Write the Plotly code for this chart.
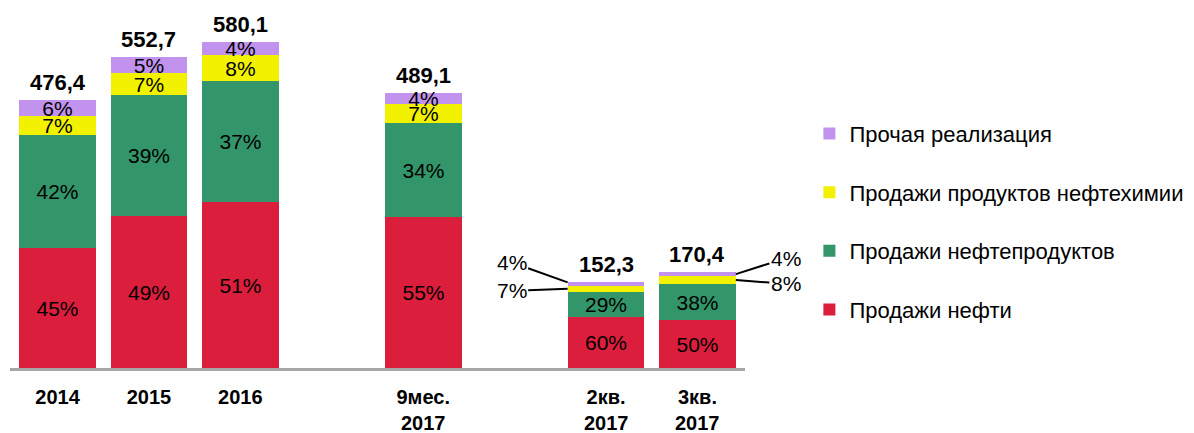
import plotly.graph_objects as go

# ---- data ----
categories = ["2014", "2015", "2016", "9мес.", "2кв.", "3кв."]
categories_line2 = ["", "", "", "2017", "2017", "2017"]
cat_pos = [0, 1, 2, 4, 6, 7]
totals = [476.4, 552.7, 580.1, 489.1, 152.3, 170.4]

series_names = ["Продажи нефти", "Продажи нефтепродуктов",
                "Продажи продуктов нефтехимии", "Прочая реализация"]
pct_oil = [45, 49, 51, 55, 60, 50]
pct_products = [42, 39, 37, 34, 29, 38]
pct_petchem = [7, 7, 8, 7, 7, 8]
pct_other = [6, 5, 4, 4, 4, 4]
series_pct = [pct_oil, pct_products, pct_petchem, pct_other]
colors = ["#DA1E3C", "#33956A", "#F2F200", "#C293EE"]

# bars whose small shares are labelled outside with leader lines
outside_label_cats = [4, 5]

FONT = "Liberation Sans, Arial, sans-serif"
BAR_W = 0.84

fig = go.Figure()
for k, (name, pct, col) in enumerate(zip(series_names, series_pct, colors)):
    vals = [t * p / 100 for t, p in zip(totals, pct)]
    texts = []
    for i, p in enumerate(pct):
        if i in outside_label_cats and name in series_names[2:]:
            texts.append("")
        else:
            texts.append(f"{p}%")
    fig.add_trace(go.Bar(
        x=cat_pos, y=vals, name=name, width=BAR_W,
        marker=dict(color=col, line=dict(width=0)),
        text=texts, textposition="inside", insidetextanchor="middle",
        constraintext="none",
        textfont=dict(family=FONT, size=21, color="black"),
        legendgroup=name, legendrank=len(series_names) - k,
        hoverinfo="skip",
    ))

annotations = []
# totals on top
for xp, t in zip(cat_pos, totals):
    annotations.append(dict(
        x=xp, y=t, xref="x", yref="y", text=f"<b>{str(t).replace('.', ',')}</b>",
        showarrow=False, yanchor="bottom", yshift=3,
        font=dict(family=FONT, size=22, color="black")))

# second line of category labels
for xp, l2 in zip(cat_pos, categories_line2):
    if l2:
        annotations.append(dict(
            x=xp, y=0, xref="x", yref="paper", text=f"<b>{l2}</b>",
            showarrow=False, yanchor="middle", yshift=-55,
            font=dict(family=FONT, size=20, color="black")))

# leader-line labels for the quarter bars
def cum(i, upto):
    return sum(series_pct[k][i] for k in range(upto)) * totals[i] / 100

# 2кв. (left side)
i = 4
annotations.append(dict(x=cat_pos[i] - BAR_W / 2, y=totals[i], xref="x", yref="y",
                        text=f"{pct_other[i]}%", showarrow=True, arrowhead=0,
                        arrowwidth=2, arrowcolor="black", ax=-56, ay=-20,
                        font=dict(family=FONT, size=21, color="black")))
annotations.append(dict(x=cat_pos[i] - BAR_W / 2,
                        y=cum(i, 2) + pct_petchem[i] * totals[i] / 200,
                        xref="x", yref="y",
                        text=f"{pct_petchem[i]}%", showarrow=True, arrowhead=0,
                        arrowwidth=2, arrowcolor="black", ax=-56, ay=2,
                        font=dict(family=FONT, size=21, color="black")))
# 3кв. (right side)
i = 5
annotations.append(dict(x=cat_pos[i] + BAR_W / 2,
                        y=cum(i, 3) + pct_other[i] * totals[i] / 200,
                        xref="x", yref="y",
                        text=f"{pct_other[i]}%", showarrow=True, arrowhead=0,
                        arrowwidth=2, arrowcolor="black", ax=50, ay=-16,
                        font=dict(family=FONT, size=21, color="black")))
annotations.append(dict(x=cat_pos[i] + BAR_W / 2,
                        y=cum(i, 2) + pct_petchem[i] * totals[i] / 200,
                        xref="x", yref="y",
                        text=f"{pct_petchem[i]}%", showarrow=True, arrowhead=0,
                        arrowwidth=2, arrowcolor="black", ax=50, ay=4,
                        font=dict(family=FONT, size=21, color="black")))

fig.update_layout(
    width=1194, height=433,
    margin=dict(l=10, r=449, t=30, b=65, autoexpand=False),
    paper_bgcolor="white", plot_bgcolor="white",
    barmode="stack", bargap=0,
    showlegend=True,
    legend=dict(x=1.0876, y=0.755, xanchor="left", yanchor="top",
                traceorder="grouped", tracegroupgap=27,
                font=dict(family=FONT, size=22, color="black"),
                bgcolor="rgba(0,0,0,0)"),
    xaxis=dict(range=[-0.52, 7.52], tickvals=cat_pos,
               ticktext=[f"<b>{c}</b>" for c in categories],
               tickfont=dict(family=FONT, size=20, color="black"),
               showgrid=False, zeroline=False, ticks="",
               showline=True, linecolor="#A6A6A6", linewidth=3,
               ticklabelstandoff=9, automargin=False),
    yaxis=dict(range=[0, 601.4], visible=False, showgrid=False, automargin=False),
    annotations=annotations,
    font=dict(family=FONT),
)

fig.write_html(
    "out.html",
    config={"displayModeBar": False},
    post_script="document.body.style.margin='0';document.body.style.overflow='hidden';",
)
